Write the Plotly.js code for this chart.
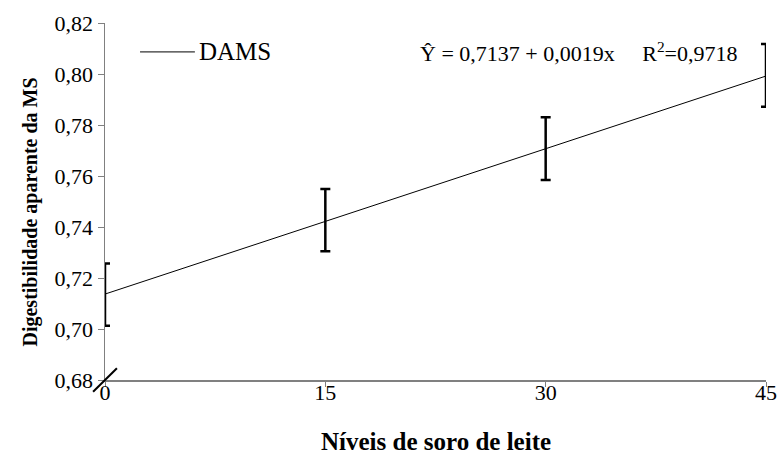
<!DOCTYPE html>
<html><head><meta charset="utf-8">
<script src="https://cdn.plot.ly/plotly-3.0.1.min.js"></script>
<style>html,body{margin:0;padding:0;background:#fff}#chart{width:781px;height:472px}</style>
</head><body><div id="chart"></div>
<script>
// Data
const levels = [0, 15, 30, 45];
const means = [0.7135, 0.7427, 0.7707, 0.7995];
const errors = [0.0122, 0.0122, 0.0123, 0.0123];
const fitX = [0, 45];
const fitY = [0.7137, 0.7992];
const seriesName = 'DAMS';
const equation = 'Ŷ = 0,7137 + 0,0019x\u00a0\u00a0\u00a0\u00a0\u00a0R<sup>2</sup>=0,9718';
const yTicks = [0.68, 0.70, 0.72, 0.74, 0.76, 0.78, 0.80, 0.82];
const xTicks = [0, 15, 30, 45];

const font = 'Liberation Serif';
const traces = [
  {x: levels, y: means, type: 'scatter', mode: 'markers', showlegend: false,
   marker: {size: 1, color: 'rgba(0,0,0,0)'}, cliponaxis: true,
   error_y: {type: 'data', array: errors, visible: true, color: '#000', thickness: 2.5, width: 5}},
  {x: fitX, y: fitY, type: 'scatter', mode: 'lines', name: seriesName, showlegend: false,
   line: {color: '#000', width: 1}}
];
const layout = {
  width: 781, height: 472,
  margin: {l: 105, r: 15, t: 23, b: 92},
  paper_bgcolor: '#fff', plot_bgcolor: '#fff',
  separators: ',.',
  font: {family: font, size: 20, color: '#000'},
  showlegend: false,
  xaxis: {range: [0, 45], tickvals: xTicks, ticktext: xTicks.map(String), showgrid: false, zeroline: false,
          showline: true, linecolor: '#808080', linewidth: 1.5, ticks: 'outside', ticklen: 5, tickcolor: '#808080',
          ticklabelstandoff: -13,
          tickfont: {family: font, size: 22, color: '#000'}, fixedrange: true},
  yaxis: {range: [0.68, 0.82], tickvals: yTicks, tickformat: '.2f', showgrid: false, zeroline: false,
          showline: true, linecolor: '#808080', linewidth: 1.5, ticks: 'outside', ticklen: 6, tickcolor: '#808080',
          tickfont: {family: font, size: 22, color: '#000'}, fixedrange: true},
  annotations: [
    {xref: 'paper', yref: 'paper', x: 0.139, y: 0.919, xanchor: 'left', yanchor: 'middle', showarrow: false,
     text: seriesName, font: {family: font, size: 25, color: '#000'}},
    {xref: 'paper', yref: 'paper', x: 0.474, y: 0.92, xanchor: 'left', yanchor: 'middle', showarrow: false,
     text: equation, font: {family: font, size: 22, color: '#000'}},
    {xref: 'paper', yref: 'paper', x: 0.5, y: -0.172, xanchor: 'center', yanchor: 'middle', showarrow: false,
     text: '<b>Níveis de soro de leite</b>', font: {family: font, size: 25, color: '#000'}},
    {xref: 'paper', yref: 'paper', x: -0.113, y: 0.47, xanchor: 'center', yanchor: 'middle', showarrow: false,
     textangle: -90, text: '<b>Digestibilidade aparente da MS</b>', font: {family: font, size: 20, color: '#000'}}
  ],
  shapes: [
    // legend sample line
    {type: 'line', xref: 'paper', yref: 'paper', x0: 0.053, y0: 0.919, x1: 0.136, y1: 0.919,
     line: {color: '#000', width: 1}},
    // axis break mark
    {type: 'line', xref: 'paper', yref: 'paper', x0: -0.018, y0: -0.033, x1: 0.018, y1: 0.033,
     line: {color: '#000', width: 2}}
  ]
};
Plotly.newPlot('chart', traces, layout, {displayModeBar: false, staticPlot: true});
</script></body></html>
